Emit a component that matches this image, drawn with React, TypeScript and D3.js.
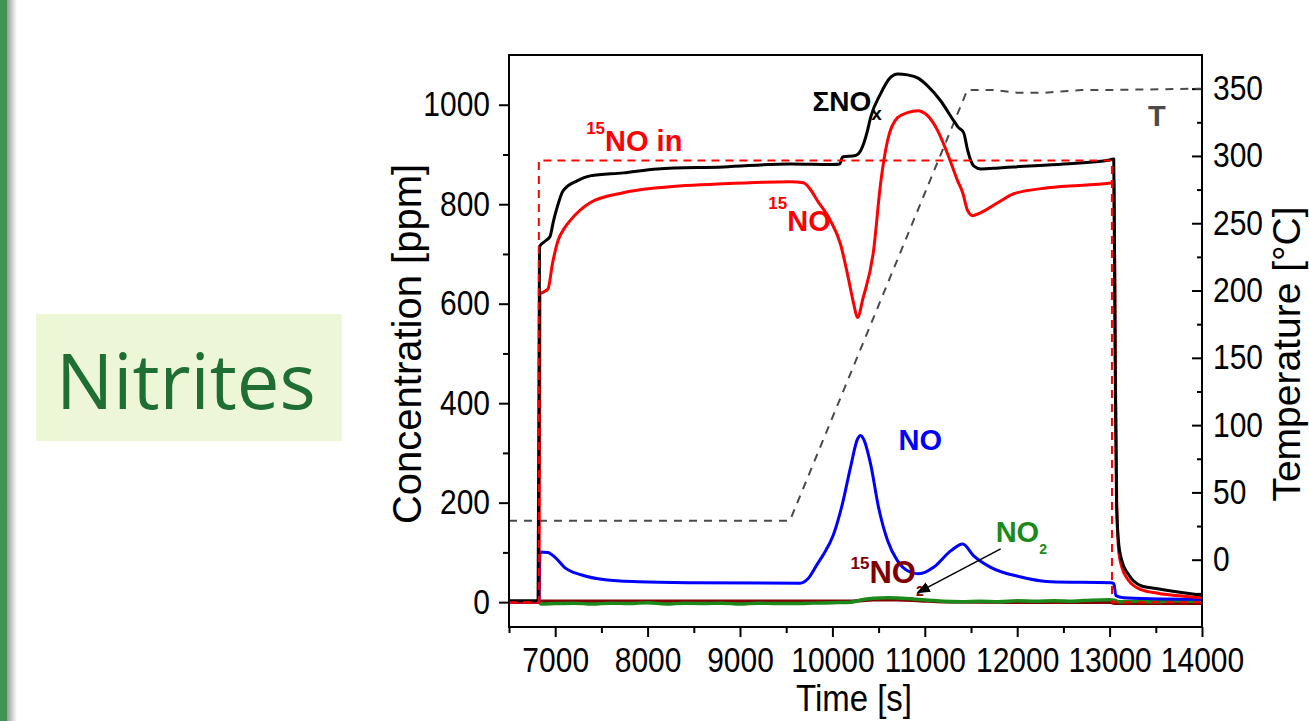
import React, { useEffect, useRef } from "react";
import * as d3 from "d3";

// ---- data (time in s, concentration in ppm, T in °C) ----
const sumNOxT = [6500, 6815, 6830, 6900, 6944, 6980, 7020, 7085, 7237, 7378, 7736, 8104, 8819, 9545, 10000, 10080, 10110, 10250, 10304, 10380, 10413, 10521, 10629, 10705, 10813, 10922, 11030, 11171, 11312, 11360, 11420, 11464, 11529, 11605, 11800, 11962, 12504, 13000, 13045, 13060, 13075, 13100, 13130, 13200, 13340, 13520, 13800, 14000];
const sumNOxV = [3, 3, 715, 727, 735, 765, 793, 827, 847, 857, 863, 871, 875, 881, 880, 881, 895, 898, 907, 948, 974, 1022, 1055, 1062, 1060, 1054, 1038, 1008, 968, 955, 944, 908, 877, 871, 873, 875, 881, 889, 891, 500, 200, 115, 85, 57, 33, 27, 19, 14];

const no15T = [6500, 6825, 6835, 6880, 6923, 6970, 7031, 7100, 7161, 7378, 7736, 8104, 8819, 9545, 9686, 9760, 9838, 9979, 10087, 10174, 10230, 10272, 10330, 10445, 10521, 10597, 10705, 10813, 10922, 11030, 11139, 11247, 11355, 11410, 11464, 11518, 11605, 11789, 11962, 12331, 13035, 13048, 13062, 13078, 13100, 13130, 13200, 13340, 13520, 13800, 14000];
const no15V = [0, 0, 620, 624, 630, 680, 727, 752, 767, 803, 823, 833, 841, 845, 843, 830, 807, 767, 720, 650, 600, 572, 610, 706, 841, 928, 974, 984, 988, 978, 948, 901, 847, 823, 787, 777, 783, 803, 821, 833, 843, 845, 480, 190, 100, 72, 45, 25, 18, 12, 9];

const no15InT = [6500, 6822, 6823, 13025, 13026, 14000];
const no15InV = [0, 0, 888, 888, 0, 0];

const noT = [6500, 6825, 6835, 6920, 6999, 7100, 7280, 7540, 7900, 8440, 9650, 9735, 9838, 9900, 10010, 10109, 10196, 10272, 10304, 10337, 10413, 10500, 10597, 10705, 10813, 10922, 11000, 11095, 11280, 11410, 11529, 11713, 12006, 12363, 13014, 13046, 13068, 13150, 13447, 14000];
const noV = [0, 0, 101, 100, 90, 70, 55, 45, 41, 39, 38, 47, 77, 95, 135, 198, 271, 328, 335, 328, 278, 190, 124, 83, 63, 57, 60, 70, 103, 117, 93, 70, 52, 41, 39, 37, 13, 9, 7, 6];

const no2T = [6500, 6820, 6850, 7000, 7200, 7400, 7600, 7800, 8000, 8200, 8400, 8600, 8800, 9000, 9200, 9400, 9600, 9800, 10000, 10200, 10350, 10450, 10600, 10750, 10900, 11050, 11200, 11400, 11600, 11800, 12000, 12200, 12400, 12600, 12800, 13000, 13050, 13100, 13300, 13500, 13700, 13900, 14000];
const no2V = [1, 1, -4, -3, -2, -4, -2, -3, -1, -4, -2, -3, -2, -4, -2, -3, -3, -2, -1, 0, 6, 8, 9, 8, 6, 4, 2, 1, 2, 1, 3, 2, 3, 2, 4, 5, 4, 1, 2, 1, 3, 2, 2];

const no215T = [6500, 6820, 6850, 8000, 9500, 10200, 10450, 10700, 10950, 11200, 12000, 13000, 13050, 14000];
const no215V = [0, 0, 2, 2, 2, 2, 5, 5, 3, 1, 0, 0, -2, -2];

const tempT = [6500, 9540, 11460, 11750, 12000, 12300, 12700, 13000, 14000];
const tempV = [29, 29, 349, 349, 347, 347, 349, 349, 350];

const leftMajor = [0, 200, 400, 600, 800, 1000];
const leftMinor = [100, 300, 500, 700, 900];
const rightMajor = [0, 50, 100, 150, 200, 250, 300, 350];
const rightMinor = [-25, 25, 75, 125, 175, 225, 275, 325];
const timeMajor = [7000, 8000, 9000, 10000, 11000, 12000, 13000, 14000];
const timeMinor = [6500, 7500, 8500, 9500, 10500, 11500, 12500, 13500];

const FONT = "'Liberation Sans', Arial, sans-serif";

export default function App() {
  const ref = useRef<SVGSVGElement>(null);

  useEffect(() => {
    const svg = d3.select(ref.current);
    svg.selectAll("*").remove();

    // page decorations
    const defs = svg.append("defs");
    const grad = defs.append("linearGradient").attr("id", "shadow");
    grad.append("stop").attr("offset", "0%").attr("stop-color", "#9a9a9a");
    grad.append("stop").attr("offset", "100%").attr("stop-color", "#ffffff");
    svg.append("rect").attr("x", 0).attr("y", 0).attr("width", 7).attr("height", 721).attr("fill", "#3e9455");
    svg.append("rect").attr("x", 7).attr("y", 0).attr("width", 10).attr("height", 721).attr("fill", "url(#shadow)");

    svg.append("rect").attr("x", 36).attr("y", 314).attr("width", 306).attr("height", 127).attr("fill", "#edf7d7");
    svg.append("text").attr("x", 56).attr("y", 409).attr("font-family", "'Open Sans', sans-serif")
      .attr("font-size", 76).attr("fill", "#1f6e34").text("Nitrites");

    const x = d3.scaleLinear().domain([6500, 14000]).range([509, 1202]);
    const yL = d3.scaleLinear().domain([-50, 1100]).range([627, 55]);
    const yR = d3.scaleLinear().domain([-50, 375]).range([627, 55]);

    defs.append("clipPath").attr("id", "plot").append("rect")
      .attr("x", 509).attr("y", 55).attr("width", 693).attr("height", 572);

    const styleAxis = (g: any, stretch: boolean) => {
      g.select(".domain").remove();
      g.selectAll("line").attr("stroke", "#000").attr("stroke-width", 2);
      g.selectAll("text").attr("font-size", 30).attr("font-family", FONT).attr("fill", "#000");
      if (stretch) g.selectAll("text").attr("transform", "scale(1,1.14)");
    };

    // axes
    const gl = svg.append("g").attr("transform", "translate(509,0)");
    gl.call(d3.axisLeft(yL).tickValues(leftMajor).tickSize(10).tickPadding(9).tickFormat(d3.format("d")));
    styleAxis(gl, true);
    const glm = svg.append("g").attr("transform", "translate(509,0)");
    glm.call(d3.axisLeft(yL).tickValues(leftMinor).tickSize(6).tickFormat(() => ""));
    styleAxis(glm, false);

    const gb = svg.append("g").attr("transform", "translate(0,627)");
    gb.call(d3.axisBottom(x).tickValues(timeMajor).tickSize(10).tickPadding(8).tickFormat(d3.format("d")));
    styleAxis(gb, true);
    const gbm = svg.append("g").attr("transform", "translate(0,627)");
    gbm.call(d3.axisBottom(x).tickValues(timeMinor).tickSize(6).tickFormat(() => ""));
    styleAxis(gbm, false);

    const gr = svg.append("g").attr("transform", "translate(1202,0)");
    gr.call(d3.axisRight(yR).tickValues(rightMajor).tickSize(-10).tickPadding(11).tickFormat(d3.format("d")));
    styleAxis(gr, true);
    const grm = svg.append("g").attr("transform", "translate(1202,0)");
    grm.call(d3.axisRight(yR).tickValues(rightMinor).tickSize(-5).tickFormat(() => ""));
    styleAxis(grm, false);

    // axis titles
    svg.append("text").attr("transform", "translate(854,711) scale(1,1.1)").attr("text-anchor", "middle")
      .attr("font-family", FONT).attr("font-size", 33).text("Time [s]");
    svg.append("text").attr("transform", "translate(421,344) rotate(-90)").attr("text-anchor", "middle")
      .attr("font-family", FONT).attr("font-size", 40).text("Concentration [ppm]");
    svg.append("text").attr("transform", "translate(1300,354) rotate(-90)").attr("text-anchor", "middle")
      .attr("font-family", FONT).attr("font-size", 39).text("Temperature [°C]");

    // series
    const plot = svg.append("g").attr("clip-path", "url(#plot)");
    const draw = (ts: number[], vs: number[], ys: any, color: string, width: number, dash: string | null, curve: any) => {
      const pts = ts.map((t, i) => [t, vs[i]] as [number, number]);
      const line = d3.line<[number, number]>().x((d) => x(d[0])).y((d) => ys(d[1])).curve(curve);
      plot.append("path").attr("d", line(pts)).attr("fill", "none").attr("stroke", color)
        .attr("stroke-width", width).attr("stroke-linejoin", "round")
        .attr("stroke-dasharray", dash);
    };
    draw(tempT, tempV, yR, "#4a4a4a", 2, "8,7", d3.curveLinear);
    draw(no215T, no215V, yL, "#800000", 3.5, null, d3.curveMonotoneX);
    draw(no2T, no2V, yL, "#1b8a1b", 3.5, null, d3.curveMonotoneX);
    draw(noT, noV, yL, "#0000ff", 3, null, d3.curveMonotoneX);
    draw(no15T, no15V, yL, "#ff0000", 3, null, d3.curveMonotoneX);
    draw(sumNOxT, sumNOxV, yL, "#000000", 3, null, d3.curveMonotoneX);
    draw(no15InT, no15InV, yL, "#ff0000", 2, "8,6", d3.curveLinear);

    // frame
    svg.append("rect").attr("x", 509).attr("y", 55).attr("width", 693).attr("height", 572)
      .attr("fill", "none").attr("stroke", "#000").attr("stroke-width", 2);

    // series labels (anchored in data units)
    const label = (t: number, v: number, color: string, parts: [string, number, number][]) => {
      const txt = svg.append("text").attr("x", x(t)).attr("y", yL(v)).attr("font-family", FONT)
        .attr("font-weight", "bold").attr("fill", color);
      parts.forEach(([s, size, dy]) => txt.append("tspan").attr("font-size", size).attr("dy", dy).text(s));
    };
    label(9784, 988, "#000", [["ΣNO", 28, 0], ["x", 19, 9]]);
    label(7335, 907, "#ff0000", [["15", 17, -17], ["NO in", 29, 17]]);
    label(9307, 747, "#ff0000", [["15", 17, -22], ["NO", 29, 22]]);
    label(10716, 305, "#0000ff", [["NO", 29, 0]]);
    label(11767, 121, "#1b8a1b", [["NO", 29, 0], ["2", 14, 12]]);
    label(10196, 39, "#800000", [["15", 17, -14], ["NO", 31, 14], ["2", 14, 13]]);
    label(13415, 958, "#4a4a4a", [["T", 29, 0]]);

    // arrow to the NO2 traces
    defs.append("marker").attr("id", "arrow").attr("viewBox", "0 0 10 10").attr("refX", 9).attr("refY", 5)
      .attr("markerWidth", 9).attr("markerHeight", 9).attr("orient", "auto-start-reverse")
      .append("path").attr("d", "M0,1 L10,5 L0,9 z").attr("fill", "#000");
    svg.append("line").attr("x1", x(11821)).attr("y1", yL(107)).attr("x2", x(10922)).attr("y2", yL(19))
      .attr("stroke", "#000").attr("stroke-width", 1.5).attr("marker-end", "url(#arrow)");
  }, []);

  return <svg ref={ref} width={1309} height={721} style={{ position: "absolute", left: 0, top: 0, background: "#fff" }} />;
}
